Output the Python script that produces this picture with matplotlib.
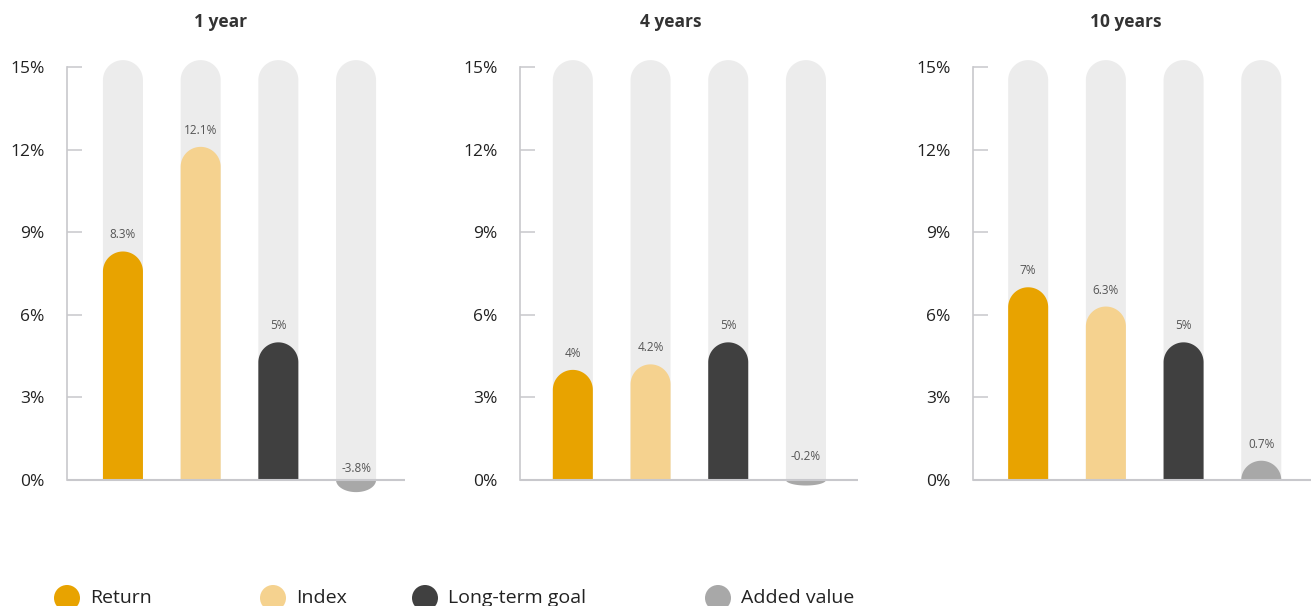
import numpy as np
import matplotlib.pyplot as plt
from matplotlib.patches import Polygon, Circle
from matplotlib.transforms import blended_transform_factory

plt.rcParams['font.family'] = ['Open Sans', 'DejaVu Sans']

# data
periods = ["1 year", "4 years", "10 years"]
series = ["Return", "Index", "Long-term goal", "Added value"]
return_vals = [8.3, 4.0, 7.0]
index_vals = [12.1, 4.2, 6.3]
goal_vals = [5.0, 5.0, 5.0]
added_vals = [-3.8, -0.2, 0.7]
yticks = [0, 3, 6, 9, 12, 15]

colors = ["#E8A300", "#F5D28F", "#404040", "#A8A8A8"]
bg_color = "#ECECEC"
axis_color = "#C8C8CC"

W, H = 1311, 606
fig = plt.figure(figsize=(W / 100, H / 100), dpi=100)

x_los = [-0.72, -0.68, -0.71]
y_lo, y_hi = -0.45, 15.3
bar_w = 0.515       # ~40 px
cap = 0.726         # ~20 px radius in y units
neg_depth = 0.44


def pill(x, v, w, c_max):
    theta = np.linspace(np.pi, 0, 60)
    xs = x + w / 2 * np.cos(theta)
    if v >= 0:
        c = min(v, c_max)
        ys = (v - c) + c * np.sin(theta)
        pts = [(x - w / 2, 0)] + list(zip(xs, ys)) + [(x + w / 2, 0)]
    else:
        c = min(-v, neg_depth)
        ys = -c * np.sin(theta)
        pts = list(zip(xs, ys))
    return pts


lefts = [67, 520, 973]
ax_w = 338
bottom_px = 492.4
top_px = 58.75

for p, period in enumerate(periods):
    vals = [return_vals[p], index_vals[p], goal_vals[p], added_vals[p]]
    ax = fig.add_axes([lefts[p] / W, (H - bottom_px) / H, ax_w / W, (bottom_px - top_px) / H])
    ax.set_xlim(x_los[p], x_los[p] + 4.35)
    ax.set_ylim(y_lo, y_hi)

    for i, v in enumerate(vals):
        ax.add_patch(Polygon(pill(i, 15.25, bar_w, cap), closed=True,
                             facecolor=bg_color, edgecolor='none', zorder=1))
        ax.add_patch(Polygon(pill(i, v, bar_w, cap), closed=True,
                             facecolor=colors[i], edgecolor='none', zorder=2,
                             clip_on=False))
        if v >= 0:
            ly = v + 0.6
        elif v < -1:
            ly = 0.4
        else:
            ly = -v + 0.65
        ax.text(i, ly, f"{v:g}%", ha='center', va='center', fontsize=8.5,
                color='#555555', zorder=4)

    ax.axhline(0, xmin=0, xmax=1, color=axis_color, lw=1.5, zorder=3)

    for s in ['top', 'right', 'bottom']:
        ax.spines[s].set_visible(False)
    ax.spines['left'].set_color(axis_color)
    ax.spines['left'].set_linewidth(1.2)
    ax.spines['left'].set_bounds(0, 15)
    ax.set_xticks([])
    ax.set_yticks(yticks)
    ax.set_yticklabels([f"{t}%" for t in yticks])
    ax.tick_params(axis='y', direction='in', length=11, width=1.1,
                   color=axis_color, pad=16, labelsize=12.5, labelcolor='#222222')

    trans = blended_transform_factory(ax.transData, fig.transFigure)
    ax.text(1.26, 1 - 22 / H, period, transform=trans, ha='center', va='center',
            fontsize=12.5, fontweight='bold', color='#333333')

# legend
lg = fig.add_axes([0, 0, 1, 1], zorder=-1)
lg.set_xlim(0, W)
lg.set_ylim(H, 0)
lg.axis('off')
leg_x = [67, 273, 425, 718]
for i, name in enumerate(series):
    lg.add_patch(Circle((leg_x[i], 598), 13, facecolor=colors[i], edgecolor='none'))
    lg.text(leg_x[i] + 23, 598, name, ha='left', va='center', fontsize=14, color='#222222')

fig.savefig("out.png", dpi=100)
